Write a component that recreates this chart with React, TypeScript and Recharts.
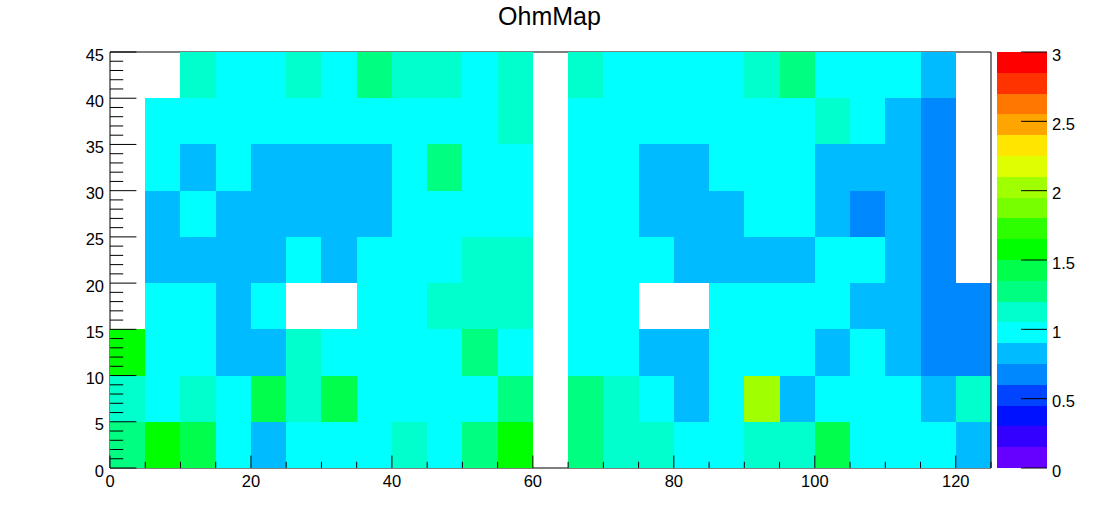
import React from 'react';
import { ScatterChart, Scatter, XAxis, YAxis } from 'recharts';

// ---- data ----
const xBinCenters = [2.5, 7.5, 12.5, 17.5, 22.5, 27.5, 32.5, 37.5, 42.5, 47.5, 52.5, 57.5, 62.5, 67.5, 72.5, 77.5, 82.5, 87.5, 92.5, 97.5, 102.5, 107.5, 112.5, 117.5, 122.5];
const yBinCenters = [2.5, 7.5, 12.5, 17.5, 22.5, 27.5, 32.5, 37.5, 42.5];

// one array per y-bin (bottom to top), 25 x-bins each; null = empty bin
const row_0_5 = [1.28, 1.57, 1.42, 0.98, 0.83, 0.98, 0.98, 0.98, 1.12, 0.98, 1.28, 1.57, null, 1.28, 1.12, 1.12, 0.98, 0.98, 1.12, 1.12, 1.42, 0.98, 0.98, 0.98, 0.83];
const row_5_10 = [1.12, 0.98, 1.12, 0.98, 1.42, 1.12, 1.42, 0.98, 0.98, 0.98, 0.98, 1.28, null, 1.28, 1.12, 0.98, 0.83, 0.98, 2.02, 0.83, 0.98, 0.98, 0.98, 0.83, 1.12];
const row_10_15 = [1.57, 0.98, 0.98, 0.83, 0.83, 1.12, 0.98, 0.98, 0.98, 0.98, 1.28, 0.98, null, 0.98, 0.98, 0.83, 0.83, 0.98, 0.98, 0.98, 0.83, 0.98, 0.83, 0.68, 0.68];
const row_15_20 = [null, 0.98, 0.98, 0.83, 0.98, null, null, 0.98, 0.98, 1.12, 1.12, 1.12, null, 0.98, 0.98, null, null, 0.98, 0.98, 0.98, 0.98, 0.83, 0.83, 0.68, 0.68];
const row_20_25 = [null, 0.83, 0.83, 0.83, 0.83, 0.98, 0.83, 0.98, 0.98, 0.98, 1.12, 1.12, null, 0.98, 0.98, 0.98, 0.83, 0.83, 0.83, 0.83, 0.98, 0.98, 0.83, 0.68, null];
const row_25_30 = [null, 0.83, 0.98, 0.83, 0.83, 0.83, 0.83, 0.83, 0.98, 0.98, 0.98, 0.98, null, 0.98, 0.98, 0.83, 0.83, 0.83, 0.98, 0.98, 0.83, 0.68, 0.83, 0.68, null];
const row_30_35 = [null, 0.98, 0.83, 0.98, 0.83, 0.83, 0.83, 0.83, 0.98, 1.28, 0.98, 0.98, null, 0.98, 0.98, 0.83, 0.83, 0.98, 0.98, 0.98, 0.83, 0.83, 0.83, 0.68, null];
const row_35_40 = [null, 0.98, 0.98, 0.98, 0.98, 0.98, 0.98, 0.98, 0.98, 0.98, 0.98, 1.12, null, 0.98, 0.98, 0.98, 0.98, 0.98, 0.98, 0.98, 1.12, 0.98, 0.83, 0.68, null];
const row_40_45 = [null, null, 1.12, 0.98, 0.98, 1.12, 0.98, 1.28, 1.12, 1.12, 0.98, 1.12, null, 1.12, 0.98, 0.98, 0.98, 0.98, 1.12, 1.28, 0.98, 0.98, 0.98, 0.83, null];

const xTicks = [0, 5, 10, 15, 20, 25, 30, 35, 40, 45, 50, 55, 60, 65, 70, 75, 80, 85, 90, 95, 100, 105, 110, 115, 120, 125];
const xMajorTicks = [0, 20, 40, 60, 80, 100, 120];
const yTicks = [0, 1, 2, 3, 4, 5, 6, 7, 8, 9, 10, 11, 12, 13, 14, 15, 16, 17, 18, 19, 20, 21, 22, 23, 24, 25, 26, 27, 28, 29, 30, 31, 32, 33, 34, 35, 36, 37, 38, 39, 40, 41, 42, 43, 44, 45];
const yMajorTicks = [0, 5, 10, 15, 20, 25, 30, 35, 40, 45];
const zTicks = [0, 0.5, 1, 1.5, 2, 2.5, 3];

const contourLevels = [0, 0.15, 0.3, 0.45, 0.6, 0.75, 0.9, 1.05, 1.2, 1.35, 1.5, 1.65, 1.8, 1.95, 2.1, 2.25, 2.4, 2.55, 2.7, 2.85, 3];
const paletteColors = ['#6600ff', '#3300ff', '#0011ff', '#0044ff', '#0088ff', '#00bbff', '#00ffff', '#00ffcc', '#00ff80', '#00ff4c', '#00ff00', '#2dff00', '#77ff00', '#a0ff00', '#ddff00', '#ffe600', '#ffa500', '#ff7700', '#ff3300', '#ff0000'];

// ---- layout ----
const W = 1102;
const H = 522;
const PLOT_LEFT = 110;
const PLOT_RIGHT = 991;
const PLOT_TOP = 52;
const PLOT_BOTTOM = 468;
const PAL_LEFT = 997;
const PAL_RIGHT = 1047;
const X_MIN = 0, X_MAX = 125, Y_MIN = 0, Y_MAX = 45, BIN = 5;
const Z_MIN = 0, Z_MAX = 3;
const FONT = '"Liberation Sans", Arial, Helvetica, sans-serif';

const cellW = ((PLOT_RIGHT - PLOT_LEFT) * BIN) / (X_MAX - X_MIN);
const cellH = ((PLOT_BOTTOM - PLOT_TOP) * BIN) / (Y_MAX - Y_MIN);

const rows = [row_0_5, row_5_10, row_10_15, row_15_20, row_20_25, row_25_30, row_30_35, row_35_40, row_40_45];
const cells: { x: number; y: number; z: number }[] = [];
rows.forEach((row, r) => {
  row.forEach((v, c) => {
    if (v !== null && v !== undefined) cells.push({ x: xBinCenters[c], y: yBinCenters[r], z: v });
  });
});

function colorFor(v: number) {
  for (let k = 0; k < paletteColors.length; k++) {
    if (v >= contourLevels[k] && v < contourLevels[k + 1]) return paletteColors[k];
  }
  return paletteColors[paletteColors.length - 1];
}

const HeatCell = (props: any) => {
  const { cx, cy, payload } = props;
  return (
    <rect
      x={cx - cellW / 2}
      y={cy - cellH / 2}
      width={cellW}
      height={cellH}
      fill={colorFor(payload.z)}
      stroke="none"
      shapeRendering="crispEdges"
    />
  );
};

// palette bands: one point per contour band, centred in the band
const bands = paletteColors.map((c, k) => ({
  x: 0.5,
  y: (contourLevels[k] + contourLevels[k + 1]) / 2,
  h: contourLevels[k + 1] - contourLevels[k],
  color: c,
}));
const pxPerZ = (PLOT_BOTTOM - PLOT_TOP) / (Z_MAX - Z_MIN);

const BandCell = (props: any) => {
  const { cx, cy, payload } = props;
  const bw = PAL_RIGHT - PAL_LEFT;
  const bh = payload.h * pxPerZ;
  return <rect x={cx - bw / 2} y={cy - bh / 2} width={bw} height={bh} fill={payload.color} stroke="none" shapeRendering="crispEdges" />;
};

// tick renderers: position along the axis comes from the axis scale (x or y prop),
// the perpendicular position is the axis line itself
const XTick = (props: any) => {
  const { x, payload } = props;
  const y = PLOT_BOTTOM;
  const major = xMajorTicks.includes(payload.value);
  return (
    <g>
      <line x1={x} x2={x} y1={y} y2={y - (major ? 12.5 : 6.2)} stroke="#000" strokeWidth={1} />
      {major && (
        <text x={x} y={y + 19} textAnchor="middle" fontSize={16.5} fontFamily={FONT} fill="#000">
          {payload.value}
        </text>
      )}
    </g>
  );
};

const YTick = (props: any) => {
  const { y, payload } = props;
  const x = PLOT_LEFT;
  const major = yMajorTicks.includes(payload.value);
  return (
    <g>
      <line x1={x} x2={x + (major ? 26.4 : 13.2)} y1={y} y2={y} stroke="#000" strokeWidth={1} />
      {major && (
        <text x={x - 6} y={y + 8.5} textAnchor="end" fontSize={16.5} fontFamily={FONT} fill="#000">
          {payload.value}
        </text>
      )}
    </g>
  );
};

const ZTick = (props: any) => {
  const { y, payload } = props;
  const x = PAL_RIGHT - PLOT_RIGHT; // palette chart is offset by PLOT_RIGHT
  return (
    <g>
      <line x1={x - 26} x2={x} y1={y} y2={y} stroke="#000" strokeWidth={1} />
      <text x={x + 5} y={y + 8.5} textAnchor="start" fontSize={16.5} fontFamily={FONT} fill="#000">
        {payload.value}
      </text>
    </g>
  );
};

export default function App() {
  return (
    <div style={{ position: 'absolute', left: 0, top: 0, width: W, height: H, background: '#fff', fontFamily: FONT }}>
      <svg width={W} height={H} style={{ position: 'absolute', left: 0, top: 0 }}>
        <text x={549.5} y={25} textAnchor="middle" fontSize={25} fontFamily={FONT} fill="#000">
          OhmMap
        </text>
        <line x1={PLOT_LEFT} x2={PLOT_RIGHT} y1={PLOT_TOP} y2={PLOT_TOP} stroke="#000" strokeWidth={1} />
      </svg>
      <div style={{ position: 'absolute', left: 0, top: 0 }}>
        <ScatterChart width={W} height={H} margin={{ top: PLOT_TOP, right: W - PLOT_RIGHT, bottom: H - PLOT_BOTTOM - 30, left: PLOT_LEFT - 60 }}>
          <Scatter data={cells} dataKey="y" shape={HeatCell} isAnimationActive={false} />
          <XAxis
            type="number"
            dataKey="x"
            domain={[X_MIN, X_MAX]}
            ticks={xTicks}
            interval={0}
            height={30}
            tickSize={0}
            tickMargin={0}
            tickLine={false}
            axisLine={{ stroke: '#000', strokeWidth: 1 }}
            tick={XTick}
            allowDataOverflow
          />
          <YAxis
            type="number"
            dataKey="y"
            domain={[Y_MIN, Y_MAX]}
            ticks={yTicks}
            interval={0}
            width={60}
            tickSize={0}
            tickMargin={0}
            tickLine={false}
            axisLine={{ stroke: '#000', strokeWidth: 1 }}
            tick={YTick}
            allowDataOverflow
          />
        </ScatterChart>
      </div>
      <svg width={W} height={H} style={{ position: 'absolute', left: 0, top: 0, pointerEvents: 'none' }}>
        <line x1={PLOT_RIGHT} x2={PLOT_RIGHT} y1={PLOT_TOP} y2={PLOT_BOTTOM} stroke="#000" strokeWidth={1} />
      </svg>
      {/* palette (colour bar) */}
      <div style={{ position: 'absolute', left: PLOT_RIGHT, top: 0 }}>
        <ScatterChart
          width={W - PLOT_RIGHT}
          height={H}
          margin={{ top: PLOT_TOP, right: W - PAL_RIGHT - 50, bottom: H - PLOT_BOTTOM, left: PAL_LEFT - PLOT_RIGHT }}
        >
          <XAxis type="number" dataKey="x" domain={[0, 1]} hide />
          <Scatter data={bands} dataKey="y" shape={BandCell} isAnimationActive={false} />
          <YAxis
            orientation="right"
            type="number"
            dataKey="y"
            domain={[Z_MIN, Z_MAX]}
            ticks={zTicks}
            interval={0}
            width={50}
            tickSize={0}
            tickMargin={0}
            tickLine={false}
            axisLine={false}
            tick={ZTick}
            allowDataOverflow
          />
        </ScatterChart>
      </div>
    </div>
  );
}
